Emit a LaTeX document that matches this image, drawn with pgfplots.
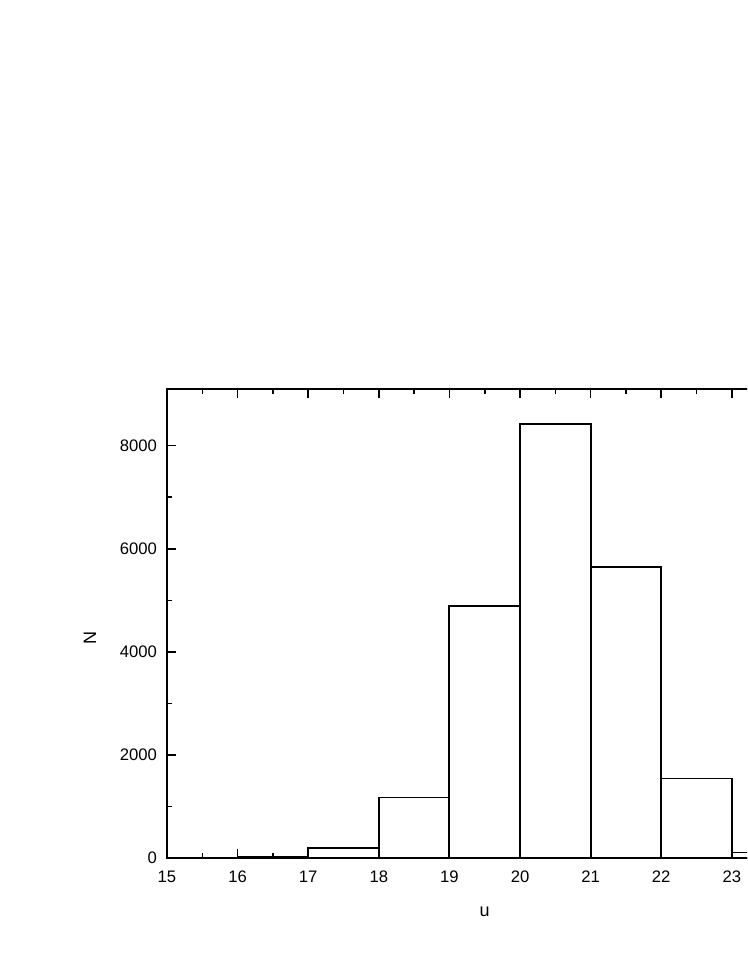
\documentclass[border=0pt]{standalone}
\usepackage{fontspec}
\setmainfont{Liberation Sans}
\usepackage{pgfplots}
\pgfplotsset{compat=1.18}
\begin{document}
\begin{tikzpicture}
\useasboundingbox (0,0) rectangle (560.25pt,725.25pt);
\clip (0,0) rectangle (560.25pt,725.25pt);
\begin{axis}[
    at={(125.25pt,81.75pt)}, anchor=south west,
    scale only axis,
    width=476.6pt, height=351.75pt,
    xmin=15, xmax=24, ymin=0, ymax=9100,
    xtick={15,...,24}, minor x tick num=1,
    ytick={0,2000,...,8000}, minor y tick num=1,
    tick align=inside,
    axis line style={line width=1.5pt},
    every tick/.style={black, line width=1.2pt},
    major tick length=6.75pt, minor tick length=3.4pt,
    scaled y ticks=false,
    /pgf/number format/assume math mode=true,
    /pgf/number format/set thousands separator={},
    ticklabel style={font=\fontsize{12.5}{14}\selectfont},
    yticklabel style={xshift=-4pt},
    xticklabel style={yshift=-6pt},
    xlabel={u}, ylabel={N},
    label style={font=\fontsize{13.5}{15}\selectfont},
    xlabel style={at={(axis description cs:0.5,0)}, anchor=center, yshift=-40.5pt},
    ylabel style={at={(axis description cs:0,0.47)}, anchor=center, rotate=0, yshift=57.75pt},
]
\addplot[ybar interval, fill=white, draw=black, line width=1.4pt]
    coordinates {(15,5) (16,30) (17,194) (18,1174) (19,4893) (20,8425)
                 (21,5648) (22,1542) (23,108) (24,108)};
\end{axis}
\end{tikzpicture}
\end{document}
